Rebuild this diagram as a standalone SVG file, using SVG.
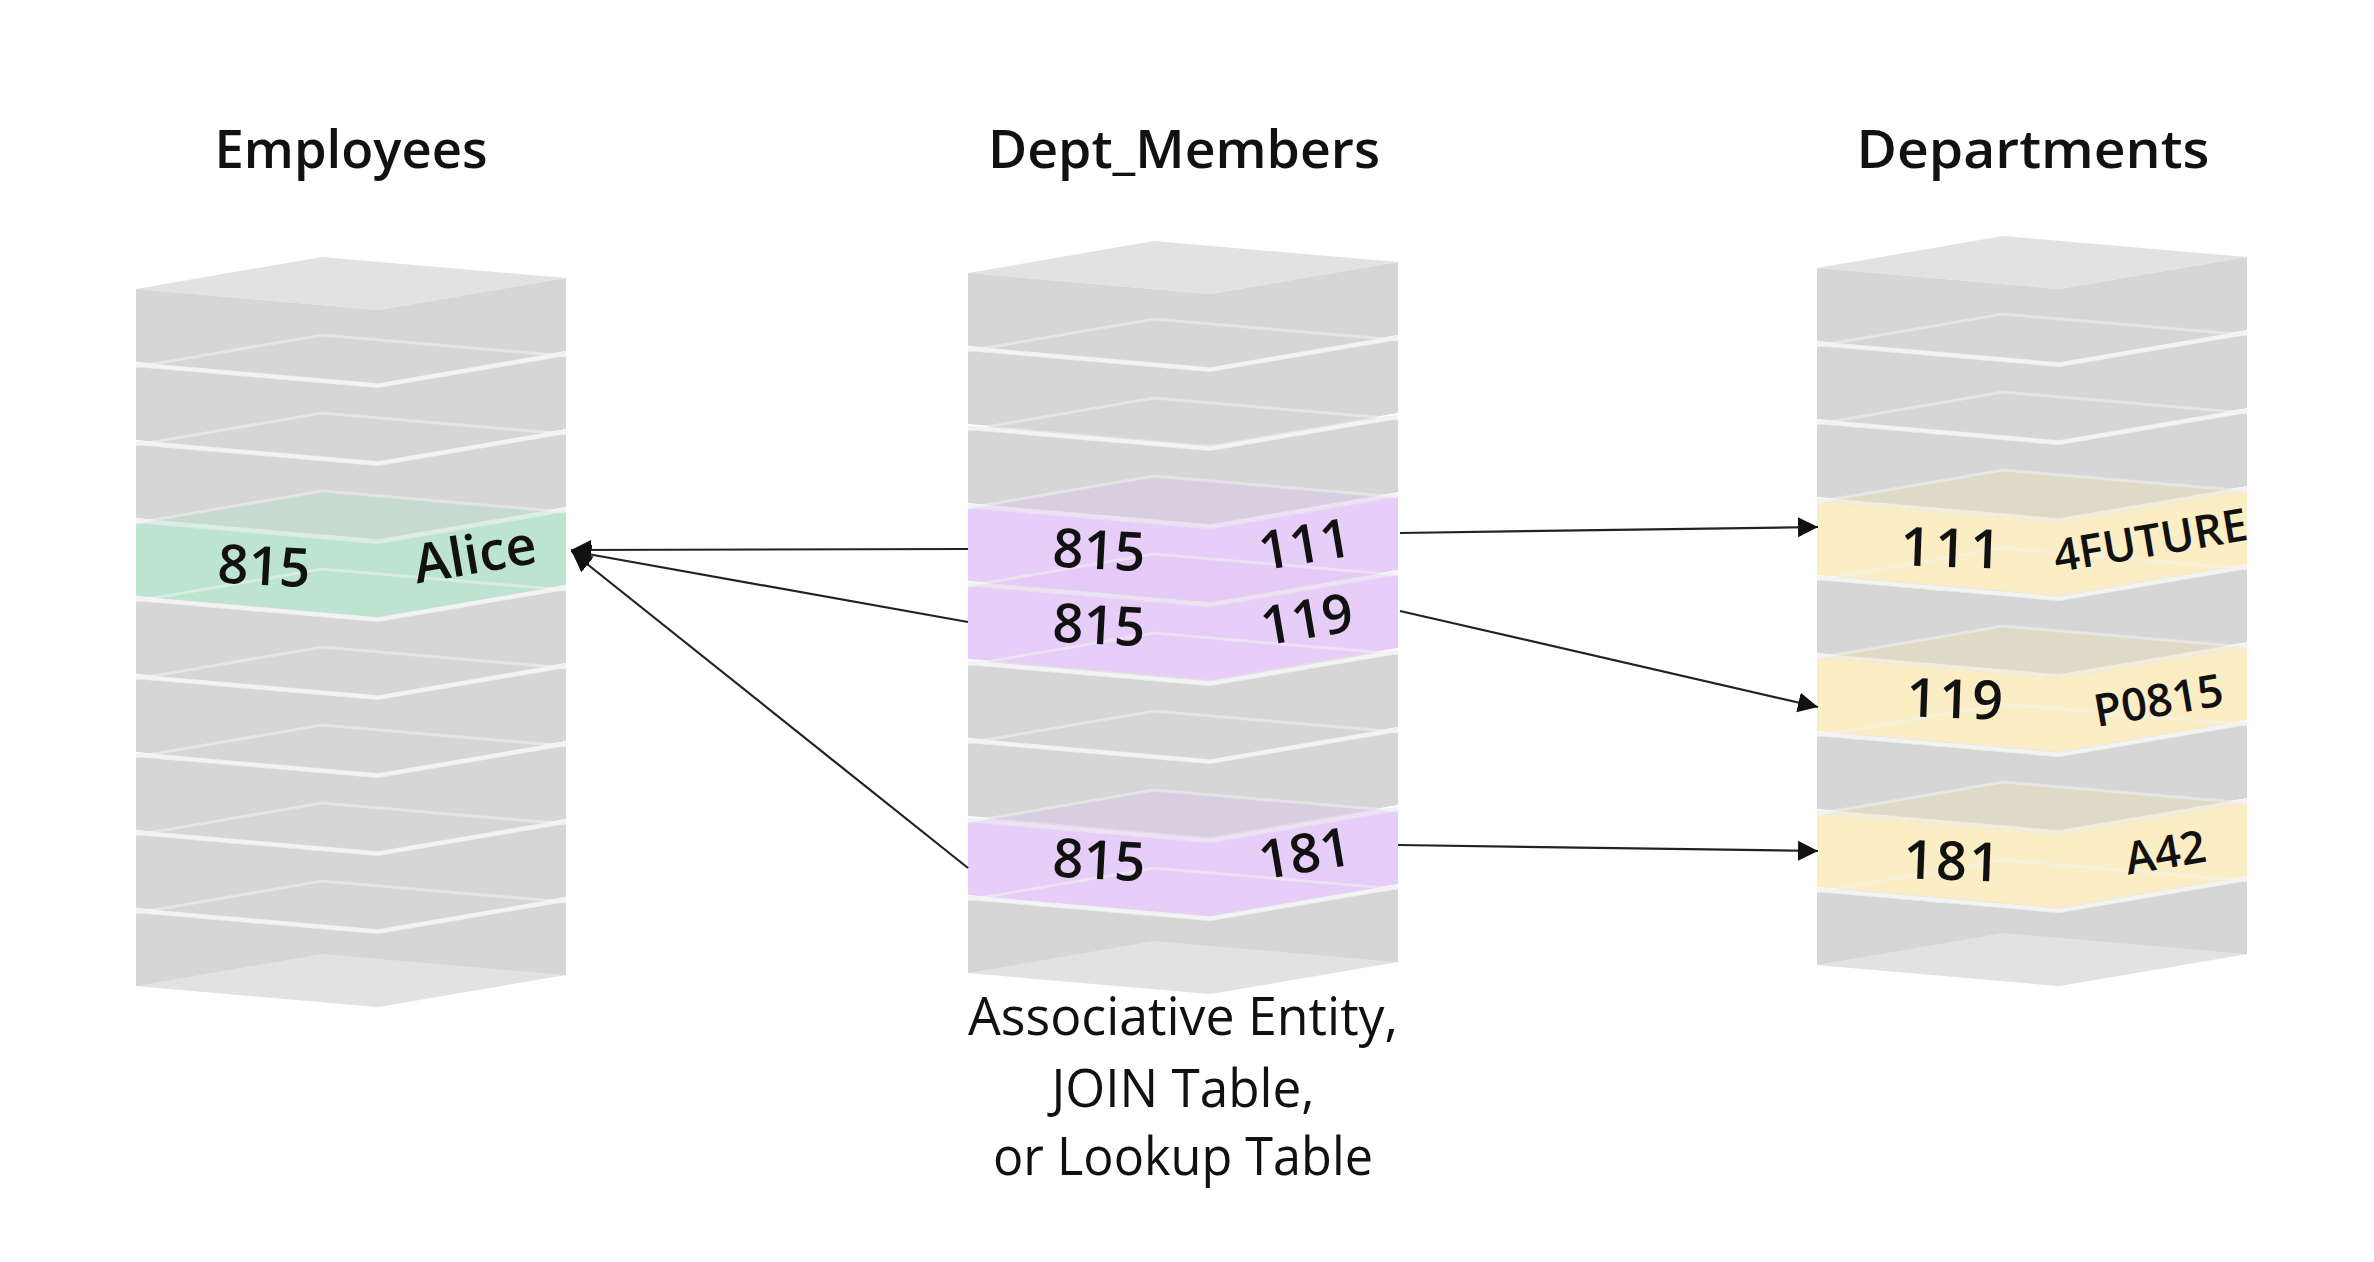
<svg xmlns="http://www.w3.org/2000/svg" width="2374" height="1262" viewBox="0 0 2374 1262">
<style>
.tp{fill:#e2e2e2}
.fr{fill:#d6d6d6}
.g{fill:#bde4d0}
.p{fill:#e7cef8}
.y{fill:#fbedc4}
.gap{fill:none;stroke:#f3f3f3;stroke-width:4}
.ghost{fill:none;stroke:#f4f4f4;stroke-width:3;opacity:.5}
.tg{fill:#a8e0c4;opacity:.3}
.tpu{fill:#e2bdf6;opacity:.3}
.ty{fill:#f6e2a8;opacity:.3}
.bot{fill:#ffffff;opacity:.3}
.title{font-family:"Open Sans","Liberation Sans",sans-serif;font-weight:600;font-size:53px;fill:#111;text-anchor:middle}
.cell{font-family:"Open Sans","Liberation Sans",sans-serif;font-weight:600;font-size:54px;fill:#111;text-anchor:middle}
.cs{font-family:"Open Sans","Liberation Sans",sans-serif;font-weight:600;font-size:45px;fill:#111;text-anchor:middle}
.note{font-family:"Open Sans","Liberation Sans",sans-serif;font-weight:400;font-size:53px;fill:#111;text-anchor:middle}
.conn{fill:none;stroke:#222;stroke-width:2.2;marker-end:url(#ah)}
</style>
<defs>
<polygon id="top" points="0,0 186,-32 430,-11 242,21"/>
<polygon id="front" points="0,0 242,21 430,-11 430,62 242,94 0,73"/>
<polyline id="back" points="0,0 186,-32 430,-11"/>
<polyline id="edge" points="0,-2.5 242,18.5 430,-13.5"/>
<marker id="ah" viewBox="0 0 10 10" refX="10" refY="5" markerWidth="20" markerHeight="22" markerUnits="userSpaceOnUse" orient="auto">
<path d="M0,0 L10,5 L0,10 z" fill="#111"/>
</marker>
</defs>
<rect width="2374" height="1262" fill="#ffffff"/>

<g id="employees">
<text class="title" x="351" y="168" textLength="273" lengthAdjust="spacingAndGlyphs">Employees</text>
<g transform="translate(136,0)">
<use href="#top" class="tp" y="913"/><use href="#front" class="fr" y="913"/>
<use href="#top" class="tp" y="835"/><use href="#front" class="fr" y="835"/>
<use href="#top" class="tp" y="757"/><use href="#front" class="fr" y="757"/>
<use href="#top" class="tp" y="679"/><use href="#front" class="fr" y="679"/>
<use href="#top" class="tp" y="601"/><use href="#front" class="fr" y="601"/>
<use href="#top" class="tp" y="523"/><use href="#front" class="g" y="523"/>
<use href="#top" class="tp" y="445"/><use href="#front" class="fr" y="445"/>
<use href="#top" class="tp" y="367"/><use href="#front" class="fr" y="367"/>
<use href="#top" class="tp" y="289"/><use href="#front" class="fr" y="289"/>
<use href="#edge" class="gap" y="367"/><use href="#edge" class="gap" y="445"/><use href="#edge" class="gap" y="523"/><use href="#edge" class="gap" y="601"/><use href="#edge" class="gap" y="679"/><use href="#edge" class="gap" y="757"/><use href="#edge" class="gap" y="835"/><use href="#edge" class="gap" y="913"/>
<use href="#top" class="tg" y="523"/>
<use href="#back" class="ghost" y="367"/><use href="#back" class="ghost" y="445"/><use href="#back" class="ghost" y="523"/><use href="#back" class="ghost" y="601"/><use href="#back" class="ghost" y="679"/><use href="#back" class="ghost" y="757"/><use href="#back" class="ghost" y="835"/><use href="#back" class="ghost" y="913"/>
<use href="#top" class="bot" y="986"/>
</g>
<text class="cell" transform="translate(263,585) rotate(3)">815</text>
<text class="cell" transform="translate(478,573) rotate(-9.7)">Alice</text>
</g>

<g id="dept_members">
<text class="title" x="1184" y="168" textLength="392" lengthAdjust="spacingAndGlyphs">Dept_Members</text>
<g transform="translate(968,0)">
<use href="#top" class="tp" y="900"/><use href="#front" class="fr" y="900"/>
<use href="#top" class="tp" y="822"/><use href="#front" class="p" y="822"/>
<use href="#top" class="tp" y="743"/><use href="#front" class="fr" y="743"/>
<use href="#top" class="tp" y="665"/><use href="#front" class="fr" y="665"/>
<use href="#top" class="tp" y="586"/><use href="#front" class="p" y="586"/>
<use href="#top" class="tp" y="508"/><use href="#front" class="p" y="508"/>
<use href="#top" class="tp" y="430"/><use href="#front" class="fr" y="430"/>
<use href="#top" class="tp" y="351"/><use href="#front" class="fr" y="351"/>
<use href="#top" class="tp" y="273"/><use href="#front" class="fr" y="273"/>
<use href="#edge" class="gap" y="351"/><use href="#edge" class="gap" y="430"/><use href="#edge" class="gap" y="508"/><use href="#edge" class="gap" y="586"/><use href="#edge" class="gap" y="665"/><use href="#edge" class="gap" y="743"/><use href="#edge" class="gap" y="822"/><use href="#edge" class="gap" y="900"/>
<use href="#top" class="tpu" y="508"/><use href="#top" class="tpu" y="586"/><use href="#top" class="tpu" y="822"/>
<use href="#back" class="ghost" y="351"/><use href="#back" class="ghost" y="430"/><use href="#back" class="ghost" y="508"/><use href="#back" class="ghost" y="586"/><use href="#back" class="ghost" y="665"/><use href="#back" class="ghost" y="743"/><use href="#back" class="ghost" y="822"/><use href="#back" class="ghost" y="900"/>
<use href="#top" class="bot" y="973"/>
</g>
<text class="cell" transform="translate(1098,569) rotate(3)">815</text>
<text class="cell" transform="translate(1308,563) rotate(-9.7)">111</text>
<text class="cell" transform="translate(1098,644) rotate(3)">815</text>
<text class="cell" transform="translate(1310,638) rotate(-9.7)">119</text>
<text class="cell" transform="translate(1098,879) rotate(3)">815</text>
<text class="cell" transform="translate(1308,872) rotate(-9.7)">181</text>
<text class="note" x="1183" y="1035" textLength="430" lengthAdjust="spacingAndGlyphs">Associative Entity,</text>
<text class="note" x="1183" y="1107" textLength="263" lengthAdjust="spacingAndGlyphs">JOIN Table,</text>
<text class="note" x="1183" y="1175" textLength="380" lengthAdjust="spacingAndGlyphs">or Lookup Table</text>
</g>

<g id="departments">
<text class="title" x="2033" y="168" textLength="353" lengthAdjust="spacingAndGlyphs">Departments</text>
<g transform="translate(1817,0)">
<use href="#top" class="tp" y="892"/><use href="#front" class="fr" y="892"/>
<use href="#top" class="tp" y="814"/><use href="#front" class="y" y="814"/>
<use href="#top" class="tp" y="736"/><use href="#front" class="fr" y="736"/>
<use href="#top" class="tp" y="658"/><use href="#front" class="y" y="658"/>
<use href="#top" class="tp" y="580"/><use href="#front" class="fr" y="580"/>
<use href="#top" class="tp" y="502"/><use href="#front" class="y" y="502"/>
<use href="#top" class="tp" y="424"/><use href="#front" class="fr" y="424"/>
<use href="#top" class="tp" y="346"/><use href="#front" class="fr" y="346"/>
<use href="#top" class="tp" y="268"/><use href="#front" class="fr" y="268"/>
<use href="#edge" class="gap" y="346"/><use href="#edge" class="gap" y="424"/><use href="#edge" class="gap" y="502"/><use href="#edge" class="gap" y="580"/><use href="#edge" class="gap" y="658"/><use href="#edge" class="gap" y="736"/><use href="#edge" class="gap" y="814"/><use href="#edge" class="gap" y="892"/>
<use href="#top" class="ty" y="502"/><use href="#top" class="ty" y="658"/><use href="#top" class="ty" y="814"/>
<use href="#back" class="ghost" y="346"/><use href="#back" class="ghost" y="424"/><use href="#back" class="ghost" y="502"/><use href="#back" class="ghost" y="580"/><use href="#back" class="ghost" y="658"/><use href="#back" class="ghost" y="736"/><use href="#back" class="ghost" y="814"/><use href="#back" class="ghost" y="892"/>
<use href="#top" class="bot" y="965"/>
</g>
<text class="cell" transform="translate(1952,567) rotate(2)" font-size="52" letter-spacing="4">111</text>
<text class="cs" transform="translate(2153,556) rotate(-9.6)">4FUTURE</text>
<text class="cell" transform="translate(1955,718) rotate(2)" font-size="52" letter-spacing="2">119</text>
<text class="cs" transform="translate(2161,716) rotate(-9.7)">P0815</text>
<text class="cell" transform="translate(1952,880) rotate(2)" font-size="52" letter-spacing="2">181</text>
<text class="cs" transform="translate(2168,868) rotate(-9.7)" font-size="48">A42</text>
</g>

<g id="connectors">
<line class="conn" x1="968" y1="549" x2="571" y2="550"/>
<line class="conn" x1="968" y1="622" x2="571" y2="551"/>
<line class="conn" x1="968" y1="868" x2="572" y2="552"/>
<line class="conn" x1="1400" y1="533" x2="1818" y2="527"/>
<line class="conn" x1="1400" y1="611" x2="1818" y2="707"/>
<line class="conn" x1="1398" y1="845" x2="1818" y2="851"/>
</g>
</svg>
